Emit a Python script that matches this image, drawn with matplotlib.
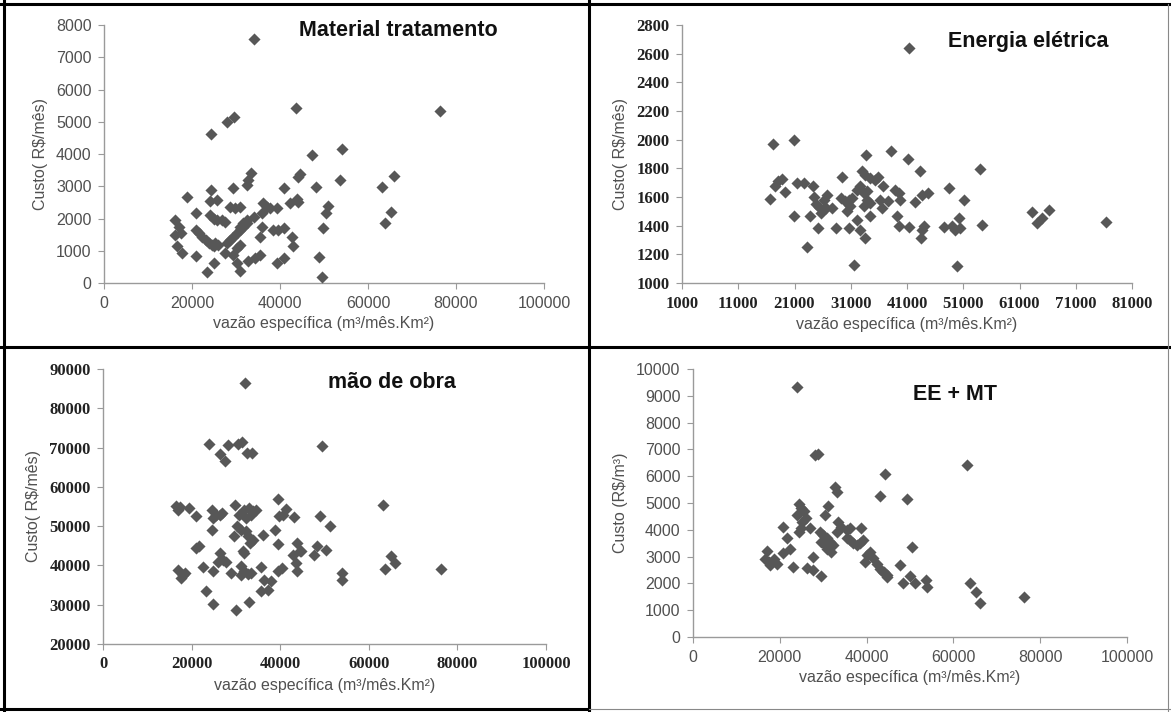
import matplotlib
matplotlib.use("Agg")
import matplotlib.pyplot as plt
from matplotlib.lines import Line2D

W, H = 1171, 712

# ---------------------- dados ----------------------
# Material tratamento (R$/mês)
mt_x = [34000, 43600, 24300, 27900, 29600, 47300, 44000, 44500, 33400, 32800,
        32500, 29400, 24300, 40900, 18900, 20800, 16200, 24200, 25700, 42300,
        43800, 36200, 37000, 37700, 39300, 28700, 29800, 31000, 24200, 25000,
        25700, 26800, 27600, 35900, 34000, 32500, 31600, 31000, 17000, 17400,
        16600, 20800, 21600, 22300, 23100, 23800, 24500, 25300, 26000, 35900,
        38500, 39600, 40800, 42700, 43000, 28700, 29400, 30200, 31000, 31600,
        32500, 27900, 27600, 29400, 30200, 31000, 35500, 17700, 20800, 25000,
        23500, 30200, 31000, 32800, 34300, 35500, 39300, 40800, 24900, 16200,
        76400, 54200, 53600, 63100, 66000, 48200, 51000, 50400, 49700, 65200,
        63900, 48900, 49500, 44000]
mt_y = [7580, 5440, 4620, 5000, 5140, 3970, 3300, 3380, 3400, 3200,
        3040, 2940, 2890, 2940, 2680, 2170, 1960, 2530, 2580, 2480,
        2600, 2480, 2370, 2320, 2320, 2370, 2320, 2370, 2100, 2000,
        1960, 1960, 1900, 2170, 2060, 1960, 1860, 1750, 1750, 1550,
        1140, 1650, 1550, 1440, 1340, 1240, 1190, 1240, 1190, 1750,
        1650, 1650, 1700, 1440, 1140, 1340, 1440, 1550, 1650, 1750,
        1860, 1240, 930, 880, 1090, 1190, 1440, 930, 830, 620,
        330, 620, 360, 670, 770, 880, 620, 770, 1140, 1500,
        5330, 4170, 3190, 2990, 3320, 2990, 2390, 2160, 1720, 2210,
        1870, 820, 200, 2500]

# Energia elétrica (R$/mês)
ee_x = [17100, 20900, 16600, 17500, 18100, 18700, 19300, 21400, 22600, 20900,
        23200, 23800, 25200, 24300, 24500, 24800, 25400, 26000, 26600, 26300,
        25700, 26700, 27600, 28300, 29400, 29200, 30000, 30600, 31200, 30300,
        30900, 30600, 31500, 32100, 32700, 33300, 33900, 33000, 33600, 33700,
        34400, 35300, 35900, 33900, 33300, 34400, 32100, 32700, 33600, 34400,
        36200, 36500, 36800, 37700, 38100, 38900, 39500, 39800, 39300, 41300,
        41100, 43300, 42500, 43700, 44800, 39500, 41300, 43700, 44000, 43400,
        48400, 47500, 49000, 50200, 50500, 49600, 51200, 54000, 54400, 49800,
        63300, 64100, 65000, 66300, 76400]
ee_y = [1971, 1999, 1588, 1674, 1709, 1725, 1637, 1700, 1700, 1465,
        1249, 1465, 1383, 1674, 1600, 1550, 1530, 1510, 1520, 1580,
        1490, 1616, 1523, 1383, 1743, 1590, 1570, 1580, 1590, 1500,
        1540, 1383, 1123, 1650, 1674, 1627, 1639, 1778, 1755, 1890,
        1732, 1720, 1743, 1580, 1534, 1557, 1441, 1372, 1314, 1465,
        1580, 1523, 1674, 1569, 1922, 1650, 1627, 1580, 1465, 2638,
        1866, 1783, 1562, 1616, 1627, 1395, 1388, 1372, 1395, 1314,
        1662, 1388, 1395, 1453, 1383, 1372, 1580, 1797, 1402, 1121,
        1495, 1418, 1453, 1509, 1425]

# mão de obra (R$/mês)
mo_x = [32100, 24000, 26300, 27500, 28300, 30400, 31400, 32400, 33600, 16500,
        17300, 16900, 19500, 20900, 24600, 25500, 26300, 26900, 24800, 24600,
        29800, 30700, 31900, 33000, 33800, 34500, 32200, 33300, 39400, 41300,
        40700, 39800, 43200, 30200, 29600, 31100, 32200, 32700, 33200, 33800,
        31500, 36200, 38900, 39400, 21000, 21700, 26300, 27000, 27800, 25900,
        31900, 22500, 24800, 28900, 31100, 31900, 32700, 33400, 31100, 35600,
        16900, 18000, 18400, 17600, 36400, 38000, 37300, 35600, 39400, 40500,
        42800, 43900, 44400, 43500, 43900, 23300, 24800, 30000, 32900, 49500,
        63200, 48900, 51200, 44650, 47600, 48400, 50300, 53900, 54000, 63600,
        65100, 66000, 76300]
mo_y = [86440, 70900, 68450, 66500, 70570, 70900, 71420, 68600, 68600, 55200,
        54800, 54000, 54600, 52700, 54200, 52900, 52750, 53350, 52100, 49100,
        55500, 52900, 54200, 54600, 53800, 54000, 52100, 52900, 57000, 54450,
        52900, 52500, 52250, 50000, 47500, 49100, 48700, 47500, 45800, 46600,
        43600, 47800, 49100, 45450, 44400, 44900, 43150, 41500, 41000, 41000,
        43150, 39500, 38500, 38100, 39800, 38500, 37800, 38100, 37650, 39500,
        38900, 37650, 38100, 36800, 36400, 35950, 33800, 33400, 38650, 39300,
        42700, 45700, 43600, 40600, 38500, 33550, 30200, 28740, 30700, 70300,
        55470, 52670, 50100, 43600, 42570, 44900, 44000, 38070, 36380, 39180,
        42300, 40600, 39180]

# EE + MT (R$/m³)
em_x = [23900, 28100, 28900, 32700, 33100, 44200, 43000, 24500, 24900, 25600,
        24000, 26000, 25200, 24900, 24500, 31200, 30400, 27000, 20800, 21600,
        20800, 22400, 17100, 16600, 17400, 17800, 19300, 18600, 23100, 26200,
        27600, 27600, 29600, 29300, 30000, 30800, 31600, 32300, 31900, 30800,
        29600, 30400, 33100, 33500, 34200, 35400, 36100, 35400, 36100, 36900,
        38600, 39200, 37700, 38400, 40000, 40800, 39600, 41500, 42300, 43000,
        43800, 44600, 47700, 49200, 50500, 48400, 49950, 51100, 53700, 53900,
        63100, 63800, 65300, 66100, 76200, 44000, 44600]
em_y = [9315, 6800, 6820, 5610, 5420, 6070, 5260, 4950, 4820, 4700,
        4560, 4430, 4300, 4050, 3930, 4890, 4550, 4050, 4115, 3680,
        3120, 3300, 3200, 2920, 2790, 2670, 2730, 2920, 2620, 2580,
        2490, 2990, 2270, 3930, 3800, 3680, 3550, 3430, 3180, 3300,
        3550, 3430, 3930, 4300, 4120, 4000, 4050, 3680, 3620, 3490,
        4050, 3620, 3430, 3490, 3060, 3180, 2800, 2930, 2740, 2550,
        2430, 2300, 2680, 5140, 3340, 2030, 2270, 2030, 2120, 1870,
        6420, 2000, 1680, 1280, 1500, 2430, 2240]

xlabel = "vazão específica (m³/mês.Km²)"

# ---------------------- estilo ----------------------
GRAY_TXT = "#505050"
SPINE = "#9a9a9a"
MARK = "#575757"


def px_rect(x0, y_top, x1, y_bot):
    return [x0 / W, 1 - y_bot / H, (x1 - x0) / W, (y_bot - y_top) / H]


def painel(rect, xs, ys, xlim, xticks, ylim, yticks, ylab, titulo, tpos, serif):
    ax = fig.add_axes(rect)
    ax.scatter(xs, ys, marker="D", s=38, color=MARK, linewidths=0, zorder=3)
    ax.set_xlim(*xlim)
    ax.set_ylim(*ylim)
    ax.set_xticks(xticks)
    ax.set_yticks(yticks)
    for s in ("top", "right"):
        ax.spines[s].set_visible(False)
    for s in ("left", "bottom"):
        ax.spines[s].set_color(SPINE)
        ax.spines[s].set_linewidth(1.0)
    ax.tick_params(direction="out", length=4, width=0.8, color=SPINE, pad=5)
    if serif:
        tfont = dict(family="Liberation Serif", weight="bold", size=12)
        tcol = "#222222"
    else:
        tfont = dict(family="Liberation Sans", size=11.5)
        tcol = GRAY_TXT
    for lab in ax.get_xticklabels() + ax.get_yticklabels():
        lab.set_fontfamily(tfont["family"])
        lab.set_fontsize(tfont["size"])
        lab.set_fontweight(tfont.get("weight", "normal"))
        lab.set_color(tcol)
    ax.set_xlabel(xlabel, family="Liberation Sans", size=11.5, color=GRAY_TXT, labelpad=4)
    ax.set_ylabel(ylab, family="Liberation Sans", size=11.5, color=GRAY_TXT, labelpad=6)
    fig.text(tpos[0] / W, 1 - tpos[1] / H, titulo, family="Liberation Sans",
             weight="bold", size=15.5, color="#111111", ha="center", va="center")
    return ax


fig = plt.figure(figsize=(W / 100, H / 100), dpi=100)
fig.patch.set_facecolor("white")

painel(px_rect(104, 25, 544, 283), mt_x, mt_y, (0, 100000), range(0, 100001, 20000),
       (0, 8000), range(0, 8001, 1000), "Custo( R$/mês)", "Material tratamento",
       (398, 30), False)

painel(px_rect(682, 25, 1132, 283), ee_x, ee_y, (1000, 81000), range(1000, 81001, 10000),
       (1000, 2800), range(1000, 2801, 200), "Custo( R$/mês)", "Energia elétrica",
       (1028, 42), True)

painel(px_rect(103, 369, 546, 644), mo_x, mo_y, (0, 100000), range(0, 100001, 20000),
       (20000, 90000), range(20000, 90001, 10000), "Custo( R$/mês)", "mão de obra",
       (392, 382), True)

painel(px_rect(693, 369, 1127, 637), em_x, em_y, (0, 100000), range(0, 100001, 20000),
       (0, 10000), range(0, 10001, 1000), "Custo (R$/m³)", "EE + MT",
       (955, 395), False)

# moldura e divisões entre os quadros
def linha(x0, y0, x1, y1, cor="black", lw=2.2):
    fig.add_artist(Line2D([x0 / W, x1 / W], [1 - y0 / H, 1 - y1 / H],
                          color=cor, lw=lw, transform=fig.transFigure))

linha(0, 4, W, 4)
linha(4, 0, 4, H)
linha(589, 0, 589, H)
linha(0, 347, W, 347)
linha(0, 709, 589, 709)
linha(1168, 4, 1168, H, cor="#888888", lw=0.8)
linha(589, 709, W, 709, cor="#888888", lw=0.8)

fig.savefig("out.png", dpi=100)
